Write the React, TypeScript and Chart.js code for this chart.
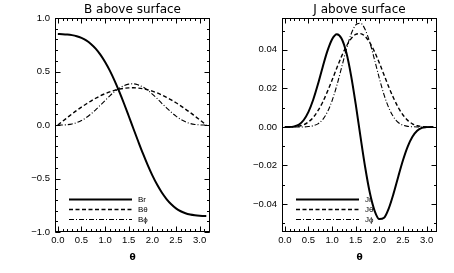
import React, { useEffect, useRef } from 'react';
import { Chart, registerables } from 'chart.js';

Chart.register(...registerables);

// ---- data ----
const theta = [0, 0.1, 0.2, 0.3, 0.4, 0.5, 0.6, 0.7, 0.8, 0.9, 1.0, 1.1, 1.2, 1.3, 1.4, 1.5, 1.6, 1.7, 1.8, 1.9, 2.0, 2.1, 2.2, 2.3, 2.4, 2.5, 2.6, 2.7, 2.8, 2.9, 3.0, 3.1, 3.1416];

const brValues = [0.85, 0.849, 0.846, 0.84, 0.83, 0.814, 0.791, 0.758, 0.714, 0.658, 0.589, 0.508, 0.415, 0.312, 0.201, 0.084, -0.035, -0.152, -0.266, -0.373, -0.471, -0.557, -0.631, -0.692, -0.741, -0.779, -0.806, -0.825, -0.837, -0.844, -0.848, -0.85, -0.85];
const bthetaValues = [0, 0.035, 0.069, 0.103, 0.136, 0.167, 0.196, 0.224, 0.25, 0.273, 0.293, 0.31, 0.324, 0.335, 0.343, 0.347, 0.348, 0.345, 0.339, 0.329, 0.316, 0.3, 0.281, 0.259, 0.235, 0.208, 0.179, 0.149, 0.117, 0.083, 0.049, 0.014, 0];
const bphiValues = [0, 0, 0.003, 0.01, 0.023, 0.042, 0.069, 0.103, 0.142, 0.185, 0.229, 0.273, 0.312, 0.344, 0.368, 0.382, 0.385, 0.375, 0.356, 0.326, 0.289, 0.248, 0.203, 0.16, 0.119, 0.083, 0.053, 0.03, 0.014, 0.005, 0.001, 0, 0];

const jrValues = [0, 0, 0.0003, 0.0012, 0.0036, 0.0078, 0.0141, 0.0221, 0.031, 0.0393, 0.0455, 0.0481, 0.0459, 0.0387, 0.0269, 0.0118, -0.0049, -0.0209, -0.0343, -0.0435, -0.0478, -0.0471, -0.0422, -0.0346, -0.0258, -0.0173, -0.0102, -0.0051, -0.002, -0.0005, -0.0001, 0, 0];
const jthetaValues = [0, 0, 0.0001, 0.0004, 0.0011, 0.0026, 0.0049, 0.0084, 0.0128, 0.0183, 0.0243, 0.0306, 0.0366, 0.0418, 0.0457, 0.048, 0.0484, 0.0469, 0.0436, 0.0389, 0.0332, 0.0269, 0.0207, 0.015, 0.0101, 0.0062, 0.0034, 0.0016, 0.0006, 0.0002, 0, 0, 0];
const jphiValues = [0, 0, 0, 0, 0, 0.0002, 0.0006, 0.0016, 0.0038, 0.0077, 0.0136, 0.0215, 0.0307, 0.0401, 0.048, 0.0529, 0.0538, 0.0505, 0.0437, 0.0347, 0.0252, 0.0166, 0.0099, 0.0052, 0.0023, 0.0009, 0.0003, 0.0001, 0, 0, 0, 0, 0];

const xTicks = [0, 0.5, 1.0, 1.5, 2.0, 2.5, 3.0];
const leftYTicks = [-1.0, -0.5, 0, 0.5, 1.0];
const rightYTicks = [-0.04, -0.02, 0, 0.02, 0.04];

const leftTitle = 'B above surface';
const rightTitle = 'J above surface';
const xTitle = 'θ';
const leftLabels = ['Br', 'Bθ', 'Bϕ'];
const rightLabels = ['Jr', 'Jθ', 'Jϕ'];

// ---- styles ----
const lineStyles = [
  { borderWidth: 2, borderDash: [] as number[] },
  { borderWidth: 1.4, borderDash: [4, 2.5] },
  { borderWidth: 1.1, borderDash: [5, 2, 1, 2] },
];
const TICK_FONT = { family: 'Liberation Sans, Arial, sans-serif', size: 9.5 };

const fmt = (v: number, d: number) => v.toFixed(d).replace('-', '\u2212');

const idlPlugin = {
  id: 'idlFrame',
  beforeDatasetsDraw(chart: any, _args: any, opts: any) {
    // legend (drawn beneath the curves, as in the reference)
    const { ctx, chartArea: a } = chart;
    ctx.save();
    chart.data.datasets.forEach((ds: any, i: number) => {
      const y = Math.round(a.top + opts.legendY + i * opts.legendDy) + 0.5;
      ctx.beginPath();
      ctx.strokeStyle = '#000';
      ctx.lineWidth = ds.borderWidth;
      ctx.setLineDash(ds.borderDash || []);
      ctx.moveTo(a.left + opts.legendX0, y);
      ctx.lineTo(a.left + opts.legendX1, y);
      ctx.stroke();
      ctx.setLineDash([]);
      ctx.fillStyle = '#000';
      ctx.font = '8px "Liberation Sans", Arial, sans-serif';
      ctx.textBaseline = 'middle';
      ctx.textAlign = 'left';
      ctx.fillText(ds.label, a.left + opts.legendX1 + 6, y);
    });
    ctx.restore();
  },
  afterDatasetsDraw(chart: any, _args: any, opts: any) {
    const { ctx, chartArea: a, scales } = chart;
    const x = scales.x;
    const y = scales.y;
    const L = Math.round(a.left) + 0.5;
    const R = Math.round(a.right) - 0.5;
    const T = Math.round(a.top) + 0.5;
    const B = Math.round(a.bottom) - 0.5;
    ctx.save();
    ctx.strokeStyle = '#000';
    ctx.lineWidth = 1;
    ctx.setLineDash([]);
    ctx.strokeRect(L, T, R - L, B - T);
    ctx.beginPath();
    const xTick = (v: number, len: number) => {
      const p = Math.round(x.getPixelForValue(v)) + 0.5;
      ctx.moveTo(p, B); ctx.lineTo(p, B - len);
      ctx.moveTo(p, T); ctx.lineTo(p, T + len);
    };
    const yTick = (v: number, len: number) => {
      const p = Math.round(y.getPixelForValue(v)) + 0.5;
      ctx.moveTo(L, p); ctx.lineTo(L + len, p);
      ctx.moveTo(R, p); ctx.lineTo(R - len, p);
    };
    const xs = opts.xMinorStep;
    for (let k = Math.ceil(x.min / xs); k * xs <= x.max + 1e-9; k++) xTick(k * xs, 2.5);
    opts.xMajor.forEach((v: number) => xTick(v, 5));
    const ys = opts.yMinorStep;
    for (let k = Math.ceil(y.min / ys); k * ys <= y.max + 1e-9; k++) yTick(k * ys, 2.5);
    opts.yMajor.forEach((v: number) => yTick(v, 5));
    ctx.stroke();
    // title centered over plot
    ctx.fillStyle = '#000';
    ctx.font = '12px "DejaVu Sans", sans-serif';
    ctx.textAlign = 'center';
    ctx.textBaseline = 'middle';
    ctx.fillText(opts.title, (a.left + a.right) / 2, 9.5);
    ctx.restore();
  },
};

function makeConfig(p: {
  title: string; labels: string[]; series: number[][];
  yMin: number; yMax: number; yTicks: number[]; yMinorStep: number; yDec: number;
}) {
  const datasets = p.series.map((vals, i) => ({
    label: p.labels[i],
    data: theta.map((t, j) => ({ x: t, y: vals[j] })),
    borderColor: '#000',
    backgroundColor: '#000',
    borderWidth: lineStyles[i].borderWidth,
    borderDash: lineStyles[i].borderDash,
    pointRadius: 0,
    cubicInterpolationMode: 'monotone' as const,
    fill: false,
  }));
  return {
    type: 'line' as const,
    data: { datasets },
    plugins: [idlPlugin],
    options: {
      animation: false as const,
      responsive: false,
      maintainAspectRatio: false,
      layout: { padding: { top: 18, right: 17, left: 0, bottom: 0 } },
      plugins: {
        legend: { display: false },
        tooltip: { enabled: false },
        title: { display: false },
        idlFrame: {
          title: p.title,
          xMajor: xTicks,
          yMajor: p.yTicks,
          xMinorStep: 0.1,
          yMinorStep: p.yMinorStep,
          legendX0: 14, legendX1: 77, legendY: 181, legendDy: 10,
        },
      },
      scales: {
        x: {
          type: 'linear' as const,
          min: -0.06,
          max: 3.22,
          grid: { display: false, drawTicks: false },
          border: { display: false },
          afterBuildTicks: (s: any) => { s.ticks = xTicks.map((v) => ({ value: v })); },
          afterFit: (s: any) => { s.height = 41; },
          ticks: {
            font: TICK_FONT, color: '#000', padding: 3, maxRotation: 0, autoSkip: false,
            callback: (v: any) => fmt(Number(v), 1),
          },
          title: {
            display: true, text: xTitle, color: '#000',
            font: { family: 'DejaVu Sans, sans-serif', size: 9, weight: 'bold' as const },
            padding: { top: 0, bottom: 10 },
          },
        },
        y: {
          type: 'linear' as const,
          min: p.yMin,
          max: p.yMax,
          grid: { display: false, drawTicks: false },
          border: { display: false },
          afterBuildTicks: (s: any) => { s.ticks = p.yTicks.map((v) => ({ value: v })); },
          afterFit: (s: any) => { s.width = 55; },
          ticks: {
            font: TICK_FONT, color: '#000', padding: 5, autoSkip: false,
            callback: (v: any) => fmt(Number(v), p.yDec),
          },
        },
      },
    },
  };
}

function Panel(props: { config: any; left: number }) {
  const ref = useRef<HTMLCanvasElement | null>(null);
  useEffect(() => {
    if (!ref.current) return;
    const chart = new Chart(ref.current, props.config);
    return () => chart.destroy();
  }, []);
  return (
    <canvas
      ref={ref}
      width={227}
      height={273}
      style={{ position: 'absolute', left: props.left, top: 0, width: 227, height: 273 }}
    />
  );
}

export default function App() {
  const leftCfg = makeConfig({
    title: leftTitle, labels: leftLabels, series: [brValues, bthetaValues, bphiValues],
    yMin: -1.0, yMax: 1.0, yTicks: leftYTicks, yMinorStep: 0.1, yDec: 1,
  });
  const rightCfg = makeConfig({
    title: rightTitle, labels: rightLabels, series: [jrValues, jthetaValues, jphiValues],
    yMin: -0.0545, yMax: 0.0565, yTicks: rightYTicks, yMinorStep: 0.01, yDec: 2,
  });
  return (
    <div style={{ position: 'absolute', left: 0, top: 0, width: 454, height: 273, background: '#fff' }}>
      <Panel config={leftCfg} left={0} />
      <Panel config={rightCfg} left={227} />
    </div>
  );
}
